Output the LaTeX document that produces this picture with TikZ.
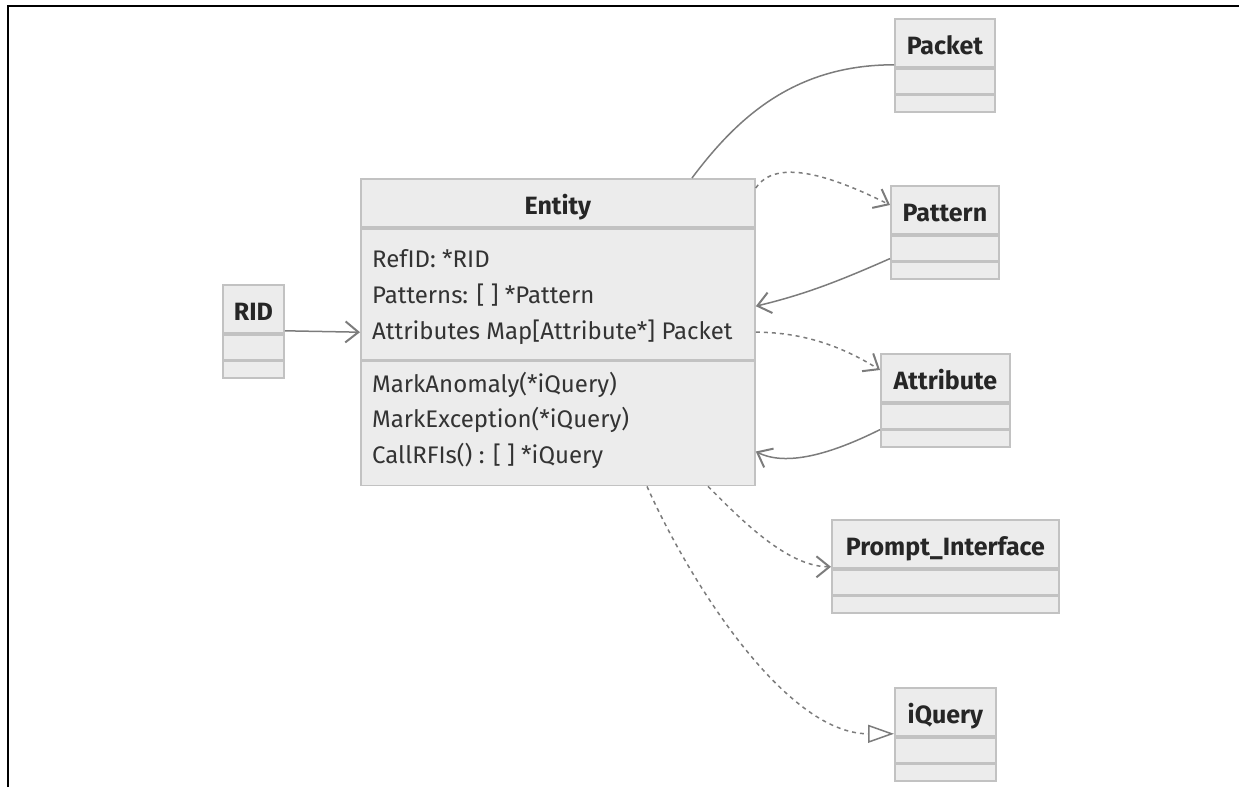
\documentclass[tikz,border=0pt]{standalone}
\usepackage{fontspec}
\setmainfont{Fira Sans}
\usetikzlibrary{positioning,arrows.meta}

\definecolor{boxfill}{HTML}{ECECEC}
\definecolor{boxline}{HTML}{C2C2C2}
\definecolor{wire}{HTML}{7C7C7C}
\definecolor{txt}{HTML}{333333}

\tikzset{
  classhead/.style={draw=boxline,fill=boxfill,line width=1.8pt,inner sep=0pt,anchor=north west,
    minimum height=48pt,text height=23pt,text depth=0pt,
    font=\fontsize{25}{30}\selectfont\bfseries,text=black!85},
  classpart/.style={draw=boxline,fill=boxfill,line width=1.8pt,inner sep=0pt,minimum height=25pt},
  classfoot/.style={classpart,minimum height=16.5pt},
  member/.style={anchor=base west,inner sep=0pt,font=\fontsize{24}{28}\selectfont,text=txt},
  assoc/.style={draw=wire,line width=1.5pt},
  navi/.style={assoc,-{Straight Barb[length=13pt,width=21pt,line width=2pt]}},
  depend/.style={navi,dash pattern=on 4pt off 4pt},
  realize/.style={assoc,dash pattern=on 4pt off 4pt,-{Triangle[open,length=26pt,width=18pt,fill=white,line width=1.5pt]}}
}

\begin{document}
\begin{tikzpicture}[x=1pt,y=-1pt]
\useasboundingbox (0,0) rectangle (1239,787);

% The frame
\draw[line width=2.5pt] (8,787) -- (8,6) -- (1239,6);

% The Entity class
\node[classhead,minimum width=394pt] (ent) at (360,178) {Entity};
\node[classpart,minimum width=394pt,minimum height=131pt,below=0pt of ent] (ent-a) {};
\node[classpart,minimum width=394pt,minimum height=124pt,below=0pt of ent-a] (ent-m) {};
\node[member] (ref) at (372,267) {RefID: *RID};
\node[member] (pats) at (372,303) {Patterns: [ ] *Pattern};
\node[member] (atts) at (372,339) {Attributes Map[Attribute*] Packet};
\node[member] (anom) at (372,392) {MarkAnomaly(*iQuery)};
\node[member] (exc) at (372,427) {MarkException(*iQuery)};
\node[member] (rfi) at (372,463) {CallRFIs() : [ ] *iQuery};

% The RID class
\node[classhead,minimum width=61pt] (rid) at (222,284) {RID};
\node[classpart,minimum width=61pt,below=0pt of rid] (rid-a) {};
\node[classfoot,minimum width=61pt,below=0pt of rid-a] (rid-m) {};

% The classes on the right
\node[classhead,minimum width=100pt] (pkt) at (894,18) {Packet};
\node[classpart,minimum width=100pt,below=0pt of pkt] (pkt-a) {};
\node[classfoot,minimum width=100pt,below=0pt of pkt-a] (pkt-m) {};

\node[classhead,minimum width=108pt] (pat) at (890,185) {Pattern};
\node[classpart,minimum width=108pt,below=0pt of pat] (pat-a) {};
\node[classfoot,minimum width=108pt,below=0pt of pat-a] (pat-m) {};

\node[classhead,minimum width=129pt] (att) at (880,353) {Attribute};
\node[classpart,minimum width=129pt,below=0pt of att] (att-a) {};
\node[classfoot,minimum width=129pt,below=0pt of att-a] (att-m) {};

\node[classhead,minimum width=227pt] (pmt) at (831,519) {Prompt\_Interface};
\node[classpart,minimum width=227pt,below=0pt of pmt] (pmt-a) {};
\node[classfoot,minimum width=227pt,below=0pt of pmt-a] (pmt-m) {};

\node[classhead,minimum width=101pt] (iq) at (894,687) {iQuery};
\node[classpart,minimum width=101pt,below=0pt of iq] (iq-a) {};
\node[classfoot,minimum width=101pt,below=0pt of iq-a] (iq-m) {};

% The links
\draw[navi] ([yshift=3pt]rid.south east) -- ([yshift=-38pt]ent-a.west);
\draw[assoc] ([xshift=332pt]ent.north west) .. controls +(45,-60) and +(-100,0) .. ([yshift=3pt]pkt.south west);
\draw[depend] ([yshift=-10pt]ent.north east) .. controls +(20,-30) and +(-60,-30) .. ([yshift=-20pt]pat.north west);
\draw[navi] ([yshift=3pt]pat-a.south west) .. controls +(-50,22) and +(50,-12) .. ([yshift=-12pt]ent-a.east);
\draw[depend] ([yshift=-38pt]ent-a.east) .. controls +(45,0) and +(-40,-25) .. ([yshift=-17pt]att.north west);
\draw[navi] (att-a.south west) .. controls +(-50,25) and +(30,15) .. ([yshift=-28pt]ent-m.east);
\draw[depend] ([xshift=348pt]ent-m.south west) .. controls +(30,30) and +(-45,0) .. ([yshift=2pt]pmt.south west);
\draw[realize] ([xshift=287pt]ent-m.south west) .. controls +(40,90) and +(-110,0) .. ([yshift=3pt]iq.south west);

\end{tikzpicture}
\end{document}
